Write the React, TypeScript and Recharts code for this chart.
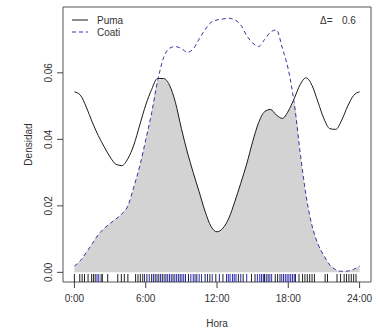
import React from "react";
import {
  ComposedChart,
  Line,
  Area,
  Scatter,
  XAxis,
  YAxis,
  ReferenceArea,
} from "recharts";

// Hours of the day (x values)
const hours = [
  0, 0.5, 1, 1.5, 2, 2.5, 3, 3.5, 4, 4.5, 5, 5.5, 6, 6.5, 7, 7.5, 8, 8.5, 9,
  9.5, 10, 10.5, 11, 11.5, 12, 12.5, 13, 13.5, 14, 14.5, 15, 15.5, 16, 16.5,
  17, 17.5, 18, 18.5, 19, 19.5, 20, 20.5, 21, 21.5, 22, 22.5, 23, 23.5, 24,
];

// Puma density (solid)
const puma = [
  0.0543, 0.0533, 0.0497, 0.0452, 0.0412, 0.0378, 0.0347, 0.0325, 0.0321,
  0.0342, 0.0383, 0.0443, 0.0503, 0.055, 0.0583, 0.0583, 0.0563, 0.0511,
  0.0433, 0.0362, 0.03, 0.0242, 0.0183, 0.0138, 0.0122, 0.0133, 0.0163,
  0.0213, 0.0268, 0.0326, 0.0393, 0.045, 0.0483, 0.049, 0.0473, 0.0463,
  0.0485, 0.0523, 0.0565, 0.0585, 0.0562, 0.0512, 0.0462, 0.0432, 0.043,
  0.0458, 0.05, 0.0532, 0.0543,
];

// Coati density (dashed)
const coati = [
  0.0019, 0.0035, 0.006, 0.0086, 0.0113, 0.0132, 0.0147, 0.0161, 0.0176,
  0.02, 0.0257, 0.032, 0.0398, 0.048, 0.0575, 0.0645, 0.0674, 0.0679,
  0.0673, 0.0662, 0.0672, 0.0702, 0.073, 0.0752, 0.0759, 0.0762, 0.0764,
  0.0759, 0.0744, 0.0712, 0.069, 0.0679, 0.07, 0.0722, 0.0729, 0.0674,
  0.061, 0.0508, 0.036, 0.023, 0.014, 0.0085, 0.005, 0.0022, 0.0008, 0.0003,
  0.0004, 0.0009, 0.0019,
];

// Observation times (rug)
const pumaRug = [
  0.0, 0.45, 0.65, 0.85, 1.15, 1.45, 1.6, 1.75, 2.25, 2.35, 2.8, 3.65, 3.95,
  4.2, 4.5, 5.15, 5.35, 5.55, 5.75, 6.1, 6.5, 6.8, 7.1, 7.4, 7.7, 8.3, 8.9,
  9.6, 10.3, 11.0, 11.4, 11.9, 12.5, 13.8, 14.2, 14.9, 15.2, 16.0, 16.3, 16.9,
  17.1, 17.3, 18.6, 18.9, 19.2, 19.4, 19.6, 19.8, 20.0, 20.2, 21.1, 21.3,
  22.1, 22.4, 22.7, 22.9, 23.1, 23.3, 23.5, 23.7,
];
const coatiRug = [
  1.9, 2.05, 5.9, 6.3, 6.65, 6.95, 7.25, 7.55, 7.85, 8.0, 8.15, 8.45, 8.6,
  8.75, 9.05, 9.2, 9.35, 9.8, 10.0, 10.15, 10.5, 10.7, 11.2, 11.6, 12.2, 12.8,
  12.95, 13.1, 13.3, 13.45, 13.6, 14.0, 14.5, 15.4, 15.6, 15.75, 15.9, 16.15,
  16.45, 16.6, 17.45, 17.6, 17.75, 17.9, 18.05, 18.2, 18.35, 18.5,
];

const xTicks = [0, 6, 12, 18, 24];
const yTicks = [0, 0.02, 0.04, 0.06];
const X_DOMAIN: [number, number] = [-0.96, 24.96];
const Y_DOMAIN: [number, number] = [-0.0029, 0.0798];

const overlapValue = 0.6;

const FONT = '"Liberation Sans", Arial, sans-serif';
const TXT = "#333";
const PUMA_COL = "#1a1a1a";
const COATI_COL = "#3535a0";

const data = hours.map((h, i) => ({
  h,
  puma: puma[i],
  coati: coati[i],
  overlap: Math.min(puma[i], coati[i]),
}));

const pumaRugData = pumaRug.map((h) => ({ h, r: Y_DOMAIN[0] }));
const coatiRugData = coatiRug.map((h) => ({ h, r: Y_DOMAIN[0] }));

const rugShape = (color: string) => (props: any) => {
  const { cx, cy } = props;
  if (cx == null || cy == null) return <g />;
  return (
    <line x1={cx} x2={cx} y1={cy} y2={cy - 8} stroke={color} strokeWidth={1} />
  );
};

const XTick = (props: any) => {
  const { x, y, payload } = props;
  return (
    <text
      x={x}
      y={y + 12}
      textAnchor="middle"
      fontSize={10}
      fontFamily={FONT}
      fill={TXT}
    >
      {`${payload.value}:00`}
    </text>
  );
};

const YTick = (props: any) => {
  const { x, y, payload } = props;
  const bx = x - 3;
  return (
    <text
      x={bx}
      y={y}
      transform={`rotate(-90, ${bx}, ${y})`}
      textAnchor="middle"
      fontSize={10}
      fontFamily={FONT}
      fill={TXT}
    >
      {payload.value.toFixed(2)}
    </text>
  );
};

export default function App() {
  return (
    <div
      style={{
        position: "absolute",
        left: 0,
        top: 0,
        width: 380,
        height: 333,
        background: "#fff",
      }}
    >
      <ComposedChart
        width={380}
        height={333}
        data={data}
        margin={{ top: 7, right: 9, left: 23, bottom: 21 }}
      >
        <XAxis
          dataKey="h"
          type="number"
          domain={X_DOMAIN}
          allowDataOverflow
          ticks={xTicks}
          axisLine={false}
          tickLine={{ stroke: "#444" }}
          tickSize={6}
          tickMargin={2}
          height={30}
          tick={<XTick />}
          interval={0}
        />
        <YAxis
          type="number"
          domain={Y_DOMAIN}
          allowDataOverflow
          ticks={yTicks}
          axisLine={false}
          tickLine={{ stroke: "#444" }}
          tickSize={6}
          tickMargin={2}
          width={40}
          tick={<YTick />}
          interval={0}
        />
        <Area
          dataKey="overlap"
          type="monotone"
          fill="#d3d3d3"
          fillOpacity={1}
          stroke="none"
          baseValue={0}
          isAnimationActive={false}
          dot={false}
          activeDot={false}
        />
        <Line
          dataKey="puma"
          type="monotone"
          stroke={PUMA_COL}
          strokeWidth={1}
          dot={false}
          activeDot={false}
          isAnimationActive={false}
        />
        <Line
          dataKey="coati"
          type="monotone"
          stroke={COATI_COL}
          strokeWidth={1}
          strokeDasharray="4 3"
          dot={false}
          activeDot={false}
          isAnimationActive={false}
        />
        <Scatter
          data={pumaRugData}
          dataKey="r"
          shape={rugShape("#222")}
          isAnimationActive={false}
        />
        <Scatter
          data={coatiRugData}
          dataKey="r"
          shape={rugShape("#2a2ab0")}
          isAnimationActive={false}
        />
        <ReferenceArea
          x1={X_DOMAIN[0]}
          x2={X_DOMAIN[1]}
          y1={Y_DOMAIN[0]}
          y2={Y_DOMAIN[1]}
          fill="none"
          stroke="#555"
          strokeWidth={1}
          ifOverflow="visible"
        />
      </ComposedChart>
      <svg
        width={380}
        height={333}
        style={{ position: "absolute", left: 0, top: 0, pointerEvents: "none" }}
        fontFamily={FONT}
        fontSize={10}
      >
        <line x1={72} x2={88} y1={20} y2={20} stroke={PUMA_COL} strokeWidth={1} />
        <text x={97} y={24} fill={TXT}>
          Puma
        </text>
        <line
          x1={72}
          x2={88}
          y1={32}
          y2={32}
          stroke={COATI_COL}
          strokeWidth={1}
          strokeDasharray="4 3"
        />
        <text x={97} y={35.5} fill={TXT}>
          Coati
        </text>
        <text x={320} y={24} fill={TXT}>
          Δ=
        </text>
        <text x={342} y={24} fill={TXT}>
          {overlapValue}
        </text>
        <text x={217} y={327} textAnchor="middle" fill={TXT}>
          Hora
        </text>
        <text
          x={32}
          y={144.5}
          transform="rotate(-90, 32, 144.5)"
          textAnchor="middle"
          fill={TXT}
        >
          Densidad
        </text>
      </svg>
    </div>
  );
}
